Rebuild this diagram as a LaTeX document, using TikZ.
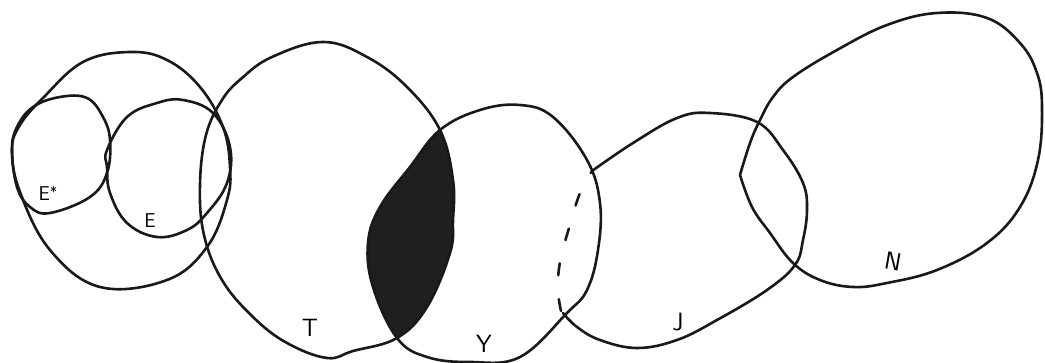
\documentclass[tikz,border=0pt]{standalone}
\begin{document}
\begin{tikzpicture}[x=1pt,y=-1pt,
  setline/.style={line width=2.6pt,line join=round,line cap=round,black!90},
  lbl/.style={font=\sffamily\fontsize{25}{25}\selectfont,inner sep=0pt},
  smalllbl/.style={font=\sffamily\fontsize{20}{20}\selectfont,inner sep=0pt}]
\useasboundingbox (0,0) rectangle (1045,363);
\fill[white] (0,0) rectangle (1045,363);
\def\Tpts{(323,42) (367,57) (407,87) (440,130) (453,180) (453,220) (450,253) (427,307) (397,338) (353,351) (327,358) (287,343) (253,317) (222,280) (204,235) (200,185) (206,135) (222,100) (242,78) (272,57)}
\def\Ypts{(440,130) (480,110) (520,105) (553,117) (587,160) (600,203) (598,250) (587,290) (567,313) (520,357) (470,362) (427,357) (397,338) (373,287) (368,243) (380,207) (410,167)}
% shaded lens T ∩ Y
\begin{scope}
  \clip plot[smooth cycle,tension=0.65] coordinates {\Tpts};
  \fill[black!88] plot[smooth cycle,tension=0.65] coordinates {\Ypts};
\end{scope}
% big left circle
\draw[setline] plot[smooth cycle,tension=0.65] coordinates {(130,52) (167,60) (200,87) (223,127) (230,167) (227,200) (207,247) (167,280) (100,287) (50,250) (20,192) (12,150) (20,125) (43,98) (83,62)};
% E*
\draw[setline] plot[smooth cycle,tension=0.65] coordinates {(33,107) (60,97) (87,98) (103,117) (110,140) (107,173) (90,197) (50,213) (30,207) (17,187) (12,150) (17,127)};
% E
\draw[setline] plot[smooth cycle,tension=0.65] coordinates {(107,150) (127,117) (157,103) (183,100) (213,113) (230,147) (227,183) (207,213) (187,230) (157,237) (127,223) (110,193) (107,167)};
% T
\draw[setline] plot[smooth cycle,tension=0.65] coordinates {\Tpts};
% Y
\draw[setline] plot[smooth cycle,tension=0.65] coordinates {\Ypts};
% J solid part
\draw[setline] plot[smooth,tension=0.65] coordinates {(592,171) (633,143) (677,118) (710,113) (757,122) (783,150) (803,183) (807,210) (803,240) (795,265) (767,290) (717,320) (677,340) (637,348) (600,340) (577,327) (563,313)};
% J dashed part
\draw[setline,dash pattern=on 12pt off 24pt] plot[smooth,tension=0.65] coordinates {(561,311) (558,290) (560,262) (569,228) (580,193) (592,171)};
% N
\draw[setline] plot[smooth,tension=0.65] coordinates {(740,175) (750,143) (760,120) (773,97) (793,77) (837,50) (887,25) (937,13) (987,18) (1020,43) (1037,73) (1042,107) (1038,160) (1020,207) (987,243) (937,270) (887,283) (853,287) (820,280) (793,263) (770,233) (752,207) (740,175)};
% labels
\node[smalllbl] (lEs) at (48,193) {E\raisebox{0.35ex}{\fontsize{15}{15}\selectfont*}};
\node[smalllbl] (lE) at (150,221) {E};
\node[lbl] (lT) at (310,328) {T};
\node[lbl] (lY) at (484,344) {Y};
\node[lbl] (lJ) at (678,322) {J};
\node[lbl,rotate=-10] (lN) at (893,261) {N};
\end{tikzpicture}
\end{document}
